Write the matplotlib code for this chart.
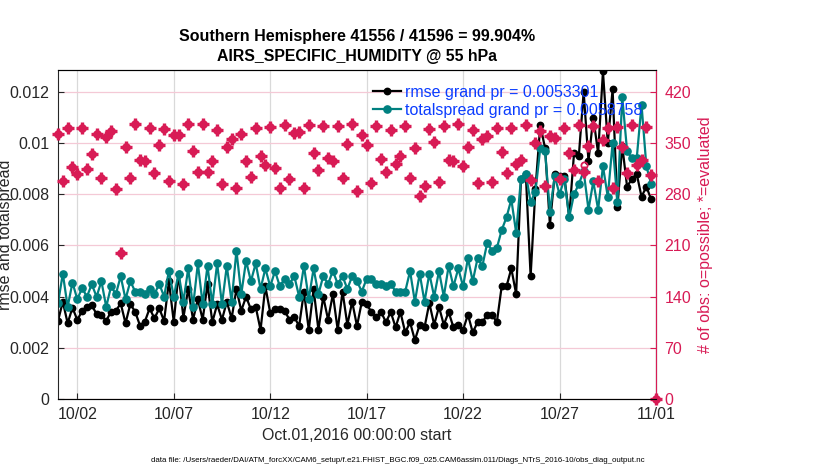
import numpy as np
import pandas as pd
import matplotlib
matplotlib.use("Agg")
import matplotlib.pyplot as plt
import matplotlib.dates as mdates

plt.rcParams['font.family'] = ['Liberation Sans', 'DejaVu Sans']

# 6-hourly bins, Oct 1 2016 00Z .. Nov 1 2016 00Z
times = pd.date_range('2016-10-01', periods=125, freq='6h')

rmse = [
    0.00305, 0.0038, 0.00296, 0.00357, 0.00309, 0.00344, 0.00361, 0.00366, 0.00332, 0.00328,
    0.00306, 0.00341, 0.00344, 0.00374, 0.00296, 0.00371, 0.00341, 0.00287, 0.00302, 0.00354,
    0.00315, 0.00354, 0.00305, 0.0046, 0.00302, 0.0049, 0.00318, 0.0043, 0.0031, 0.0039,
    0.0031, 0.0045, 0.0030, 0.0037, 0.0031, 0.0038, 0.00315, 0.0043, 0.00345, 0.0040,
    0.0035, 0.0036, 0.0027, 0.0044, 0.00337, 0.0035, 0.0035, 0.00344, 0.0031, 0.0032,
    0.00285, 0.0042, 0.0027, 0.0043, 0.0027, 0.0040, 0.0031, 0.0041, 0.0027, 0.0042,
    0.0029, 0.0038, 0.00285, 0.0038, 0.0037, 0.0034, 0.0032, 0.0034, 0.0030, 0.0034,
    0.0028, 0.0034, 0.0026, 0.0030, 0.0023, 0.0029, 0.0028, 0.00375, 0.0029, 0.0036,
    0.0029, 0.0034, 0.0028, 0.0029, 0.0027, 0.0033, 0.0026, 0.0030, 0.0030, 0.0033,
    0.0033, 0.0030, 0.0044, 0.0044, 0.0051, 0.0041, 0.0086, 0.0088, 0.0048, 0.0082,
    0.0107, 0.0098, 0.0068, 0.0088, 0.0087, 0.0087, 0.0071, 0.0096, 0.0095, 0.0120,
    0.0093, 0.0110, 0.0096, 0.0128, 0.0100, 0.0121, 0.0075, 0.0099, 0.0083, 0.0086,
    0.0088, 0.0079, 0.0083, 0.0078, np.nan,
]

totalspread = [
    0.00374, 0.0049, 0.0036, 0.00455, 0.0039, 0.00433, 0.0040, 0.00448, 0.0040, 0.0046,
    0.0036, 0.0044, 0.0041, 0.0048, 0.0039, 0.0046, 0.0042, 0.0042, 0.0041, 0.0043,
    0.0041, 0.0045, 0.0040, 0.0050, 0.0040, 0.0049, 0.0038, 0.0051, 0.0036, 0.0053,
    0.0037, 0.0052, 0.0037, 0.0053, 0.0037, 0.0052, 0.0038, 0.0058, 0.0041, 0.0054,
    0.0046, 0.0053, 0.0043, 0.0051, 0.0044, 0.0050, 0.0044, 0.0047, 0.0045, 0.0048,
    0.0040, 0.0052, 0.0039, 0.0051, 0.0041, 0.0048, 0.0045, 0.0050, 0.0045, 0.0048,
    0.0043, 0.0048, 0.0046, 0.0042, 0.0047, 0.0047, 0.0045, 0.0045, 0.0044, 0.0045,
    0.0042, 0.0042, 0.0042, 0.0050, 0.0038, 0.0049, 0.0038, 0.0049, 0.0040, 0.0050,
    0.0040, 0.0052, 0.0044, 0.0051, 0.0044, 0.0055, 0.0046, 0.0055, 0.0052, 0.0061,
    0.0058, 0.0059, 0.0066, 0.0071, 0.0078, 0.0065, 0.0086, 0.0088, 0.0077, 0.0081,
    0.0098, 0.0097, 0.0073, 0.0087, 0.0080, 0.0086, 0.0071, 0.0080, 0.0084, 0.0089,
    0.0074, 0.0085, 0.0074, 0.0091, 0.0079, 0.0100, 0.0077, 0.0118, 0.0097, 0.0094,
    0.0094, 0.0115, 0.0091, 0.0084, np.nan,
]

nevaluated = [
    362, 298, 371, 318, 308, 371, 314, 335, 363, 302,
    358, 366, 287, 200, 345, 302, 376, 327, 325, 370,
    309, 348, 369, 298, 361, 361, 294, 376, 339, 310,
    376, 310, 326, 368, 294, 345, 356, 288, 362, 326,
    304, 371, 332, 320, 372, 316, 289, 375, 301, 364,
    365, 288, 375, 337, 313, 374, 329, 325, 373, 302,
    349, 376, 284, 361, 347, 295, 374, 328, 311, 368,
    321, 333, 374, 302, 343, 278, 292, 369, 352, 297,
    374, 327, 325, 376, 319, 344, 368, 296, 356, 360,
    297, 370, 338, 309, 370, 321, 327, 375, 300, 350,
    366, 291, 360, 357, 301, 370, 336, 313, 375, 311,
    346, 374, 298, 354, 370, 289, 372, 345, 309, 375,
    320, 327, 372, 306, 0,
]

npossible = list(nevaluated)
npossible[109] = 320

title_lines = ['Southern Hemisphere 41556 / 41596 = 99.904%',
               'AIRS_SPECIFIC_HUMIDITY @ 55 hPa']
legend_labels = ['rmse grand pr = 0.0053301', 'totalspread grand pr = 0.0058758']
datafile = ('data file: /Users/raeder/DAI/ATM_forcXX/CAM6_setup/f.e21.FHIST_BGC.f09_025.'
            'CAM6assim.011/Diags_NTrS_2016-10/obs_diag_output.nc')

crimson = '#d81b55'
teal = '#008080'
dark = '#262626'

fig = plt.figure(figsize=(8.3, 4.7), dpi=100)
ax1 = fig.add_axes([58 / 830, 1 - 399 / 470, 598 / 830, 329 / 470])
ax2 = ax1.twinx()

# counts on the right axis (o = possible, * = evaluated)
ax2.plot(times, npossible, linestyle='none', marker='o', ms=4.5, mfc='none',
         mec=crimson, mew=1.3, clip_on=False)
ax2.plot(times, nevaluated, linestyle='none', marker='+', ms=8, mec=crimson, mew=2.4,
         clip_on=False)
ax2.plot(times, nevaluated, linestyle='none', marker='x', ms=4.6, mec=crimson, mew=2.2,
         clip_on=False)

h1, = ax1.plot(times, rmse, color='black', lw=1.6, marker='o', ms=4.6)
h2, = ax1.plot(times, totalspread, color=teal, lw=1.6, marker='o', ms=5.2)

ymax = 0.012857
ax1.set_ylim(0, ymax)
ax2.set_ylim(0, ymax * 35000)
ax1.set_xlim(times[0], times[-1])
ax1.set_yticks([0, 0.002, 0.004, 0.006, 0.008, 0.01, 0.012])
ax1.set_yticklabels(['0', '0.002', '0.004', '0.006', '0.008', '0.01', '0.012'])
ax2.set_yticks(range(0, 421, 70))

ax1.set_xticks(pd.date_range('2016-10-02', '2016-11-01', freq='5D'))
ax1.xaxis.set_major_formatter(mdates.DateFormatter('%m/%d'))

ax1.tick_params(direction='in', length=4, labelsize=11.5, colors=dark, pad=6)
ax2.tick_params(direction='in', length=4, labelsize=11.5, colors=crimson, pad=6)
for s in ['left', 'top', 'bottom']:
    ax1.spines[s].set_color(dark)
ax2.spines['right'].set_color(crimson)
ax2.spines['left'].set_visible(False)

ax1.set_axisbelow(True)
ax1.grid(axis='x', color='#d9d9d9', lw=0.9)
ax1.grid(axis='y', color='#f4c9d6', lw=0.9)

ax1.set_xlabel('Oct.01,2016 00:00:00 start', fontsize=11.5, color=dark, labelpad=4)
ax1.set_ylabel('rmse and totalspread', fontsize=11.5, color=dark)
ax1.yaxis.set_label_coords(-0.075, 0.5)
ax2.set_ylabel('# of obs: o=possible; *=evaluated', fontsize=11.5, color=crimson)
ax2.yaxis.set_label_coords(1.07, 0.5)

fig.text(357 / 830, 1 - 36 / 470, title_lines[0], ha='center', va='center',
         fontsize=11.5, fontweight='bold')
fig.text(357 / 830, 1 - 57 / 470, title_lines[1], ha='center', va='center',
         fontsize=11.4, fontweight='bold')
fig.text(398 / 830, 1 - 461 / 470, datafile, ha='center', va='center', fontsize=5.7)

leg = ax2.legend([h1, h2], legend_labels, loc='upper left', bbox_to_anchor=(0.51, 0.985),
                 frameon=False, fontsize=11.5, labelcolor='#0a3cff', handlelength=1.8,
                 handletextpad=0.25, labelspacing=0.22, borderaxespad=0.2)

fig.savefig('out.png', dpi=100)
